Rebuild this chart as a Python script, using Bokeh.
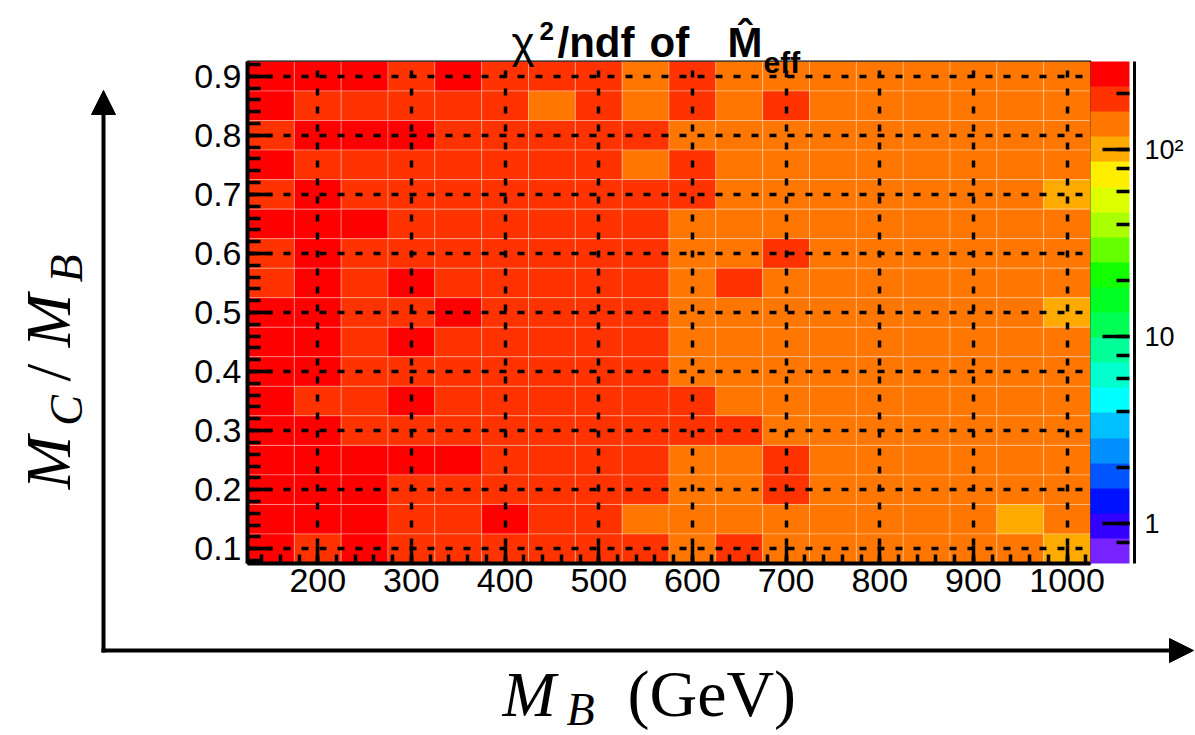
import math
from bokeh.plotting import figure
from bokeh.layouts import column
from bokeh.models import (ColumnDataSource, LogColorMapper, ColorBar, LogTicker, GridBox,
                          SingleIntervalTicker, PrintfTickFormatter, Label, Arrow, NormalHead)
from bokeh.embed import file_html
from bokeh.resources import INLINE

# ---------------- data ----------------
mb_gev = [150, 200, 250, 300, 350, 400, 450, 500, 550,
          600, 650, 700, 750, 800, 850, 900, 950, 1000]
mc_over_mb = [0.90, 0.85, 0.80, 0.75, 0.70, 0.65, 0.60, 0.55, 0.50,
              0.45, 0.40, 0.35, 0.30, 0.25, 0.20, 0.15, 0.10]
# chi2/ndf, one row per Mc/Mb value (top row = 0.90), columns follow mb_gev
chi2_ndf = [
    [250, 250, 250, 185, 250, 185, 185, 185, 135, 185, 135, 135, 135, 135, 135, 135, 135, 135],
    [250, 185, 185, 185, 185, 185, 135, 185, 135, 185, 135, 185, 135, 135, 135, 135, 135, 135],
    [185, 250, 250, 250, 185, 185, 185, 185, 185, 135, 135, 135, 135, 135, 135, 135, 135, 135],
    [250, 185, 185, 185, 185, 185, 185, 185, 135, 185, 135, 135, 135, 135, 135, 135, 135, 135],
    [185, 250, 185, 185, 185, 185, 185, 185, 185, 185, 135, 135, 135, 135, 135, 135, 135, 100],
    [250, 250, 250, 185, 185, 185, 185, 185, 185, 135, 135, 135, 135, 135, 135, 135, 135, 135],
    [185, 250, 185, 185, 185, 185, 185, 185, 185, 135, 135, 185, 135, 135, 135, 135, 135, 135],
    [185, 250, 185, 250, 185, 185, 185, 185, 185, 135, 185, 135, 135, 135, 135, 135, 135, 135],
    [250, 250, 185, 185, 250, 185, 185, 185, 185, 135, 135, 135, 135, 135, 135, 135, 135, 100],
    [250, 250, 185, 250, 185, 185, 185, 185, 185, 135, 135, 135, 135, 135, 135, 135, 135, 135],
    [250, 250, 185, 185, 185, 185, 185, 185, 185, 135, 135, 135, 135, 135, 135, 135, 135, 135],
    [250, 185, 185, 250, 185, 185, 185, 185, 185, 185, 135, 135, 135, 135, 135, 135, 135, 135],
    [250, 250, 185, 185, 185, 185, 185, 185, 185, 185, 185, 135, 135, 135, 135, 135, 135, 135],
    [250, 250, 250, 250, 250, 185, 185, 185, 185, 135, 135, 185, 135, 135, 135, 135, 135, 135],
    [250, 250, 250, 185, 185, 185, 185, 185, 185, 135, 135, 185, 135, 135, 135, 135, 135, 135],
    [250, 250, 250, 185, 185, 250, 185, 185, 135, 135, 135, 135, 135, 135, 135, 135, 100, 135],
    [250, 185, 250, 185, 185, 185, 185, 185, 185, 135, 185, 135, 135, 135, 135, 135, 135, 100],
]
z_min, z_max = 0.614, 297.0
palette = ['#7722ff', '#3300ff', '#0011ff', '#0055ff', '#0090ff', '#00c0ff', '#00ffff',
           '#00ffcc', '#00ff99', '#00ff55', '#00ff22', '#11ff00', '#66ff00', '#aaff00',
           '#ddff00', '#ffee00', '#ffaa00', '#ff7700', '#ff3300', '#ff0000']
title_parts = ["\u03c7", "2", "/ndf", "of", "M\u0302", "eff"]
ylabel_parts = ["M", "C", "/", "M", "B"]
xlabel_parts = ["M", "B", "(GeV)"]

# ---------------- layout (page pixels) ----------------
PW, PH = 1195, 735
FL, FT, FW, FH = 247, 61, 843, 502
SANS = "Liberation Sans"
SERIF = "Liberation Serif"
MID = 0.347  # middle of the em box above the baseline, in em


def mid_y(baseline, size):
    return baseline - MID * size


# ---------------- main heat map ----------------
xs, ys, vs = [], [], []
for r, yv in enumerate(mc_over_mb):
    for c, xv in enumerate(mb_gev):
        xs.append(xv)
        ys.append(yv)
        vs.append(chi2_ndf[r][c])
src = ColumnDataSource(dict(x=xs, y=ys, v=vs))

mapper = LogColorMapper(palette=palette, low=z_min, high=z_max)

p = figure(width=PW, height=PH, x_range=(125, 1025), y_range=(0.075, 0.925),
           output_backend="svg", toolbar_location=None, title_location=None,
           min_border_left=FL, min_border_top=FT,
           min_border_right=PW - FL - FW, min_border_bottom=PH - FT - FH,
           background_fill_color="white", border_fill_color="white",
           outline_line_color="black", outline_line_width=2)

p.rect(x="x", y="y", width=50, height=0.05, source=src,
       fill_color={"field": "v", "transform": mapper},
       line_color="white", line_alpha=0.3, line_width=1)

p.xaxis.ticker = SingleIntervalTicker(interval=100, num_minor_ticks=5)
p.yaxis.ticker = SingleIntervalTicker(interval=0.1, num_minor_ticks=5)
p.yaxis.formatter = PrintfTickFormatter(format="%.1f")
for ax in (p.xaxis[0], p.yaxis[0]):
    ax.axis_line_width = 4
    ax.axis_line_color = "black"
    ax.major_tick_line_color = "black"
    ax.minor_tick_line_color = "black"
    ax.major_tick_line_width = 3.5
    ax.minor_tick_line_width = 3.5
    ax.major_tick_out = 0
    ax.minor_tick_out = 0
    ax.major_label_text_font = SANS
    ax.major_label_text_font_size = "34px"
    ax.major_label_text_color = "black"
p.yaxis.major_tick_in = 25
p.yaxis.minor_tick_in = 13
p.yaxis.major_label_standoff = 6
p.xaxis.major_tick_in = 18
p.xaxis.minor_tick_in = 9
p.xaxis.major_label_standoff = 5

for g in (p.xgrid[0], p.ygrid[0]):
    g.grid_line_color = "black"
    g.grid_line_dash = "7 11"
    g.grid_line_width = 3.5
    g.grid_line_alpha = 1.0
    g.level = "overlay"

cb = ColorBar(color_mapper=mapper, ticker=LogTicker(), width=39,
              margin=5, padding=0, label_standoff=15,
              major_label_text_font=SANS, major_label_text_font_size="27px",
              major_label_text_color="black",
              major_label_overrides={1: "1", 10: "10", 100: "10\u00b2"},
              major_tick_line_color="black", major_tick_line_width=3.5,
              major_tick_in=27, major_tick_out=0,
              minor_tick_line_color="black", minor_tick_line_width=3.5,
              minor_tick_in=13, minor_tick_out=0,
              bar_line_color=None, border_line_color=None,
              background_fill_alpha=0)
p.add_layout(cb, "right")

# ---------------- transparent overlay for title, arrows and axis labels ----------------
ov = figure(width=PW, height=PH, x_range=(0, PW), y_range=(PH, 0),
            x_axis_type=None, y_axis_type=None, output_backend="svg",
            toolbar_location=None, title_location=None, min_border=0,
            outline_line_color=None, background_fill_color=None,
            border_fill_color=None)

# colour-bar axis line
ov.add_layout(Arrow(x_start=1134, y_start=FT, x_end=1134, y_end=FT + FH,
                    end=None, line_color="black", line_width=3))

# title (x = left edge, baseline in page pixels)
t_x = [511, 539, 557, 649, 727, 763]
t_base = [57, 40, 57, 57, 57, 72]
t_fs = [44, 26, 42, 42, 42, 30]
t_st = ["normal", "bold", "bold", "bold", "bold", "bold"]
for t, px, bl, fs, st in zip(title_parts, t_x, t_base, t_fs, t_st):
    ov.add_layout(Label(x=px, y=mid_y(bl, fs), text=t, text_font=SANS,
                        text_font_style=st, text_font_size=f"{fs}px",
                        text_color="black", text_baseline="middle", text_align="left"))

# outer arrows
head = dict(fill_color="black", line_color="black", line_width=1, size=24)
ov.add_layout(Arrow(x_start=103, y_start=652, x_end=103, y_end=90,
                    end=NormalHead(**head), line_color="black", line_width=4))
ov.add_layout(Arrow(x_start=101, y_start=650, x_end=1193, y_end=650,
                    end=NormalHead(**head), line_color="black", line_width=4))

# y label (rotated), pieces centred
for t, px, py, fs in zip(ylabel_parts, [48, 66, 48, 48, 66], [462, 410, 372, 320, 268],
                         ["64px", "46px", "64px", "64px", "46px"]):
    ov.add_layout(Label(x=px, y=py, text=t, angle=math.pi / 2, text_font=SERIF,
                        text_font_style="normal" if t == "/" else "italic",
                        text_font_size=fs, text_color="black",
                        text_align="center", text_baseline="middle"))

# x label (x = left edge, baseline in page pixels)
for t, px, bl, fs, st in zip(xlabel_parts, [502, 566, 627], [716, 725, 716],
                             [64, 46, 66], ["italic", "italic", "normal"]):
    ov.add_layout(Label(x=px, y=mid_y(bl, fs), text=t, text_font=SERIF,
                        text_font_style=st, text_font_size=f"{fs}px",
                        text_color="black", text_baseline="middle", text_align="left"))

layout = GridBox(children=[(column(p), 0, 0), (column(ov), 0, 0)])
open("out.html", "w").write(file_html(layout, INLINE))
